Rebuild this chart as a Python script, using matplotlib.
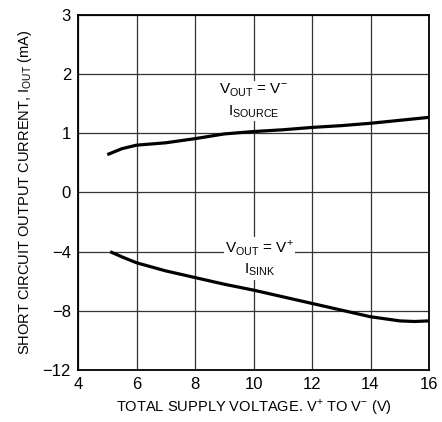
import numpy as np
import matplotlib
matplotlib.use("Agg")
import matplotlib.pyplot as plt

plt.rcParams['font.family'] = ['Liberation Sans Narrow', 'Liberation Sans', 'DejaVu Sans']
plt.rcParams['mathtext.fontset'] = 'custom'
plt.rcParams['mathtext.rm'] = 'Liberation Sans'

# data (mA vs total supply voltage)
v_source = [5.0, 5.5, 6.0, 7.0, 8.0, 9.0, 10.0, 11.0, 12.0, 13.0, 14.0, 15.0, 16.0]
i_source = [0.64, 0.74, 0.80, 0.84, 0.91, 0.99, 1.03, 1.06, 1.10, 1.13, 1.17, 1.22, 1.27]
v_sink = [5.1, 5.5, 6.0, 7.0, 8.0, 9.0, 10.0, 11.0, 12.0, 13.0, 14.0, 15.0, 15.5, 16.0]
i_sink = [-4.0, -4.35, -4.75, -5.3, -5.75, -6.2, -6.6, -7.05, -7.5, -7.95, -8.4, -8.68, -8.72, -8.68]

x_ticks = [4, 6, 8, 10, 12, 14, 16]
y_ticks = [3, 2, 1, 0, -4, -8, -12]


# y axis is 1 mA/div above zero and 4 mA/div below
def fwd(y):
    y = np.asarray(y, dtype=float)
    return np.where(y >= 0, y, y / 4.0)


def inv(y):
    y = np.asarray(y, dtype=float)
    return np.where(y >= 0, y, y * 4.0)


fig = plt.figure(figsize=(4.42, 4.22), dpi=100)
ax = fig.add_axes([78 / 442, 1 - 370 / 422, (429 - 78) / 442, (370 - 15) / 422])
ax.set_yscale('function', functions=(fwd, inv))

ax.plot(v_source, i_source, color='black', lw=2.3, solid_capstyle='butt', zorder=5)
ax.plot(v_sink, i_sink, color='black', lw=2.3, solid_capstyle='butt', zorder=5)

ax.set_xlim(4, 16)
ax.set_ylim(-12, 3)
ax.set_xticks(x_ticks)
ax.set_yticks(y_ticks)
ax.set_xticklabels([str(t) for t in x_ticks], fontsize=12)
ax.set_yticklabels([str(t).replace('-', '\u2212') for t in y_ticks], fontsize=12)
ax.tick_params(length=0, pad=5)
ax.grid(True, color='#333333', lw=0.9)
for s in ax.spines.values():
    s.set_linewidth(1.3)

box = dict(facecolor='white', edgecolor='none', pad=1)
ax.text(10.0, 1.55, 'V$_{\\mathregular{OUT}}$ = V$^{\\mathregular{\u2212}}$\nI$_{\\mathregular{SOURCE}}$',
        ha='center', va='center', fontsize=11, linespacing=1.3, zorder=4, bbox=box)
ax.text(10.2, -4.45, 'V$_{\\mathregular{OUT}}$ = V$^{\\mathregular{+}}$\nI$_{\\mathregular{SINK}}$',
        ha='center', va='center', fontsize=11, linespacing=1.3, zorder=4, bbox=box)

ax.set_xlabel('TOTAL SUPPLY VOLTAGE. V$^{\\mathregular{+}}$ TO V$^{\\mathregular{\u2212}}$ (V)', fontsize=10.5, labelpad=4)
ax.set_ylabel('SHORT CIRCUIT OUTPUT CURRENT, I$_{\\mathregular{OUT}}$ (mA)', fontsize=10.5, labelpad=6)

fig.savefig('out.png', dpi=100)
